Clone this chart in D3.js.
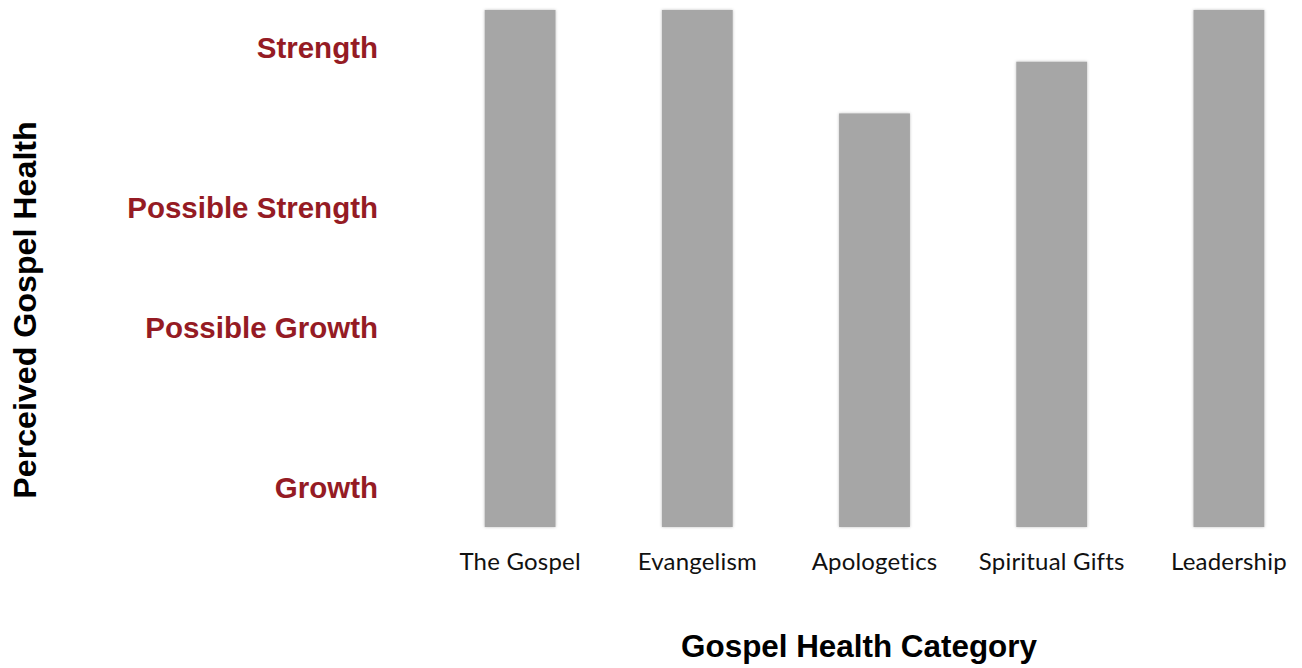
<html>
    <head>
        <title>Gospel Health Category</title>
        <script src="https://d3js.org/d3.v7.min.js"></script>
    </head>
    <body style="margin:0;background-color:white">
        <div id="chart"></div>
    </body>
    <script>
        // data (score 0-100, 100 = top of the plot)
        var categories = ["The Gospel", "Evangelism", "Apologetics", "Spiritual Gifts", "Leadership"];
        var scores = [100, 100, 80, 90, 100];
        var levelNames = ["Growth", "Possible Growth", "Possible Strength", "Strength"];
        var levelValues = [7.5, 38.5, 61.7, 92.6];

        var width = 1302, height = 668;
        var plot = {left: 431.5, right: 1317.5, top: 10, bottom: 527};

        var svg = d3.select("#chart")
          .append("svg")
            .attr("width", width)
            .attr("height", height);

        // soft shadow around the bars
        var f = svg.append("defs").append("filter")
            .attr("id", "shadow")
            .attr("x", "-20%").attr("y", "-5%")
            .attr("width", "140%").attr("height", "110%");
        f.append("feDropShadow")
            .attr("dx", 0).attr("dy", 0)
            .attr("stdDeviation", 1.6)
            .attr("flood-color", "#000")
            .attr("flood-opacity", 0.25);

        var x = d3.scaleBand()
          .domain(categories)
          .range([plot.left, plot.right])
          .paddingInner(0.6)
          .paddingOuter(0.3);

        var y = d3.scaleLinear()
          .domain([0, 100])
          .range([plot.bottom, plot.top]);

        svg.selectAll("rect.bar")
          .data(categories)
          .enter().append("rect")
            .attr("class", "bar")
            .attr("x", function(d) { return x(d); })
            .attr("width", x.bandwidth())
            .attr("y", function(d, i) { return y(scores[i]); })
            .attr("height", function(d, i) { return y(0) - y(scores[i]); })
            .style("fill", "#a6a6a6")
            .attr("filter", "url(#shadow)");

        // category labels
        var xAxis = svg.append("g")
          .attr("transform", "translate(0," + plot.bottom + ")")
          .call(d3.axisBottom(x).tickSize(0).tickPadding(26));
        xAxis.select(".domain").remove();
        xAxis.selectAll("text")
          .style("font-family", "Lato, 'Open Sans', sans-serif")
          .style("font-size", "24px")
          .style("letter-spacing", "0.2px")
          .style("fill", "#111");

        // level labels on the left
        var yAxis = svg.append("g")
          .attr("transform", "translate(378,0)")
          .call(d3.axisLeft(y).tickValues(levelValues)
                  .tickFormat(function(d, i) { return levelNames[i]; })
                  .tickSize(0).tickPadding(0));
        yAxis.select(".domain").remove();
        yAxis.selectAll("text")
          .style("font-family", "'Liberation Sans', Arial, sans-serif")
          .style("font-weight", "bold")
          .style("font-size", "29.5px")
          .style("fill", "#951b24");

        svg.append("text")
          .attr("transform", "translate(36,310) rotate(-90)")
          .style("text-anchor", "middle")
          .style("font-family", "'Liberation Sans', Arial, sans-serif")
          .style("font-weight", "bold")
          .style("font-size", "32.2px")
          .style("fill", "black")
          .text("Perceived Gospel Health");

        svg.append("text")
          .attr("x", 859)
          .attr("y", 657)
          .style("text-anchor", "middle")
          .style("font-family", "'Liberation Sans', Arial, sans-serif")
          .style("font-weight", "bold")
          .style("font-size", "31.4px")
          .style("fill", "black")
          .text("Gospel Health Category");
    </script>
</html>
